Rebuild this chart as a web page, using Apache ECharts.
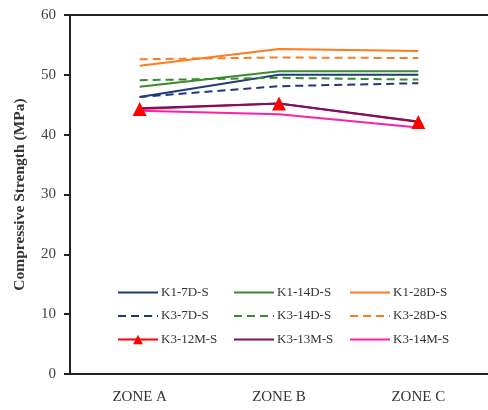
<!DOCTYPE html>
<html>
<head>
<meta charset="utf-8">
<script src="https://cdn.jsdelivr.net/npm/echarts@6/dist/echarts.min.js"></script>
<style>
    html, body { margin: 0; padding: 0; background: #fff; }
    #chart { width: 488px; height: 410px; }
</style>
</head>
<body>
<div id="chart"></div>
<script>
// categories and values
var zones = ['ZONE A', 'ZONE B', 'ZONE C'];
var k1_7d = [46.3, 50.0, 50.0];
var k1_14d = [48.0, 50.6, 50.6];
var k1_28d = [51.5, 54.3, 54.0];
var k3_7d = [46.3, 48.1, 48.6];
var k3_14d = [49.1, 49.5, 49.2];
var k3_28d = [52.6, 52.9, 52.8];
var k3_12m = [44.3, 45.2, 42.1];
var k3_13m = [44.4, 45.2, 42.2];
var k3_14m = [44.0, 43.4, 41.2];
var yTicks = [0, 10, 20, 30, 40, 50, 60];

var navy = '#1f3a7a', green = '#3a8a2e', orange = '#fd7b1f',
    red = '#ff0000', purple = '#73136b', pink = '#ff1fae';
var serif = 'Liberation Serif';

function line(name, data, color, dashed) {
    return {
        name: name,
        type: 'line',
        data: data,
        symbol: 'none',
        lineStyle: { color: color, width: 2, type: dashed ? [8, 5] : 'solid' },
        itemStyle: { color: color },
        animation: false
    };
}

// hide the legend dot on plain lines, keep it for the red triangles
function legendCol(left, names) {
    return {
        orient: 'vertical',
        left: left,
        top: 286,
        padding: 0,
        itemWidth: 40,
        itemHeight: 12,
        itemGap: 10.5,
        itemStyle: { opacity: 0 },
        data: names.map(function (n) {
            return n === 'K3-12M-S' ? { name: n, itemStyle: { opacity: 1 } } : { name: n };
        }),
        textStyle: { fontFamily: serif, fontSize: 13, color: '#333', padding: [0, 0, 0, -2] },
        selectedMode: false
    };
}

var series = [
    line('K1-7D-S', k1_7d, navy, false),
    line('K1-14D-S', k1_14d, green, false),
    line('K1-28D-S', k1_28d, orange, false),
    line('K3-7D-S', k3_7d, navy, true),
    line('K3-14D-S', k3_14d, green, true),
    line('K3-28D-S', k3_28d, orange, true),
    line('K3-12M-S', k3_12m, red, false),
    line('K3-13M-S', k3_13m, purple, false),
    line('K3-14M-S', k3_14m, pink, false)
];
series[6].symbol = 'triangle';
series[6].symbolSize = 14;
series[6].showSymbol = true;

var chart = echarts.init(document.getElementById('chart'));
chart.setOption({
    backgroundColor: '#fff',
    grid: { left: 70, top: 15, right: -6, bottom: 36 },
    legend: [
        legendCol(117, ['K1-7D-S', 'K3-7D-S', 'K3-12M-S']),
        legendCol(233, ['K1-14D-S', 'K3-14D-S', 'K3-13M-S']),
        legendCol(349, ['K1-28D-S', 'K3-28D-S', 'K3-14M-S'])
    ],
    xAxis: [{
        type: 'category',
        data: zones,
        boundaryGap: true,
        axisLine: { lineStyle: { color: '#222', width: 2 } },
        axisTick: { length: 5, lineStyle: { color: '#222', width: 2 } },
        axisLabel: { fontFamily: serif, fontSize: 15, color: '#333', margin: 16 }
    }, {
        type: 'category',
        data: zones,
        position: 'top',
        axisLine: { lineStyle: { color: '#222', width: 2 } },
        axisTick: { show: false },
        axisLabel: { show: false }
    }],
    yAxis: {
        type: 'value',
        min: yTicks[0],
        max: yTicks[yTicks.length - 1],
        interval: 10,
        name: 'Compressive Strength (MPa)',
        nameLocation: 'middle',
        nameGap: 42,
        nameTextStyle: { fontFamily: serif, fontSize: 15.5, fontWeight: 'bold', color: '#333' },
        axisLine: { show: true, lineStyle: { color: '#222', width: 2 } },
        axisTick: { show: true, length: 6, lineStyle: { color: '#222', width: 2 } },
        axisLabel: { fontFamily: serif, fontSize: 15, color: '#444', margin: 14 },
        splitLine: { show: false }
    },
    series: series
});
</script>
</body>
</html>
